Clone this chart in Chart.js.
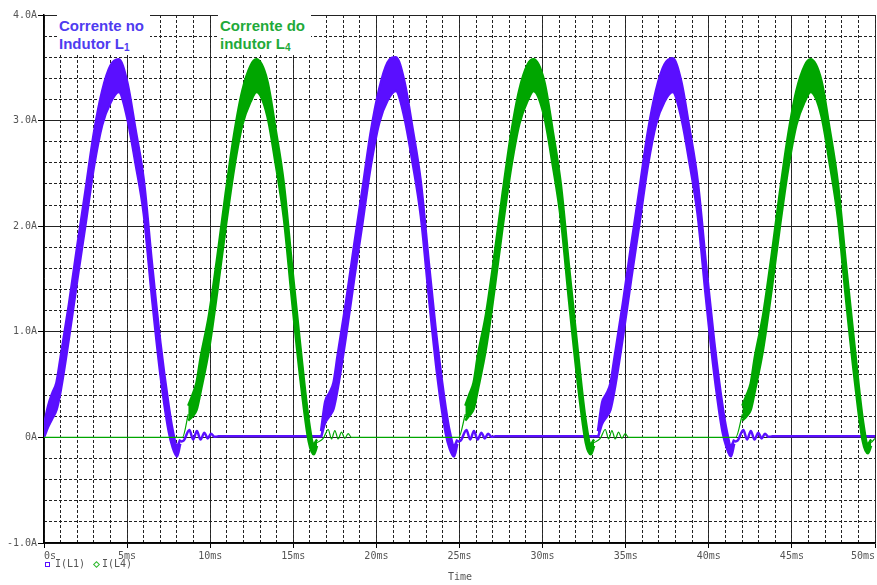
<!DOCTYPE html>
<html lang="pt">
<head>
  <meta charset="UTF-8">
  <title>Corrente nos indutores L1 e L4</title>
  <script src="https://cdn.jsdelivr.net/npm/chart.js"></script>
  <style>
    body { margin: 0; background: #fff; }
    .wrap { position: relative; width: 877px; height: 585px; }
    .note {
      position: absolute;
      top: 15px;
      background: #fff;
      font: bold 15px 'Liberation Sans', Arial, sans-serif;
      line-height: 18px;
      padding: 2px 6px 2px 2px;
      white-space: nowrap;
    }
    .note sub { font-size: 10px; vertical-align: -2px; line-height: 0; }
    .mono {
      position: absolute;
      font: 10px 'DejaVu Sans Mono', monospace;
      color: #555;
      white-space: nowrap;
    }
    .sq { position: absolute; width: 3px; height: 3px; border: 1px solid #5a0fff; }
    .dm { position: absolute; width: 3px; height: 3px; border: 1px solid #2fb82f; transform: rotate(45deg); }
  </style>
</head>
<body>
<div class="wrap">
  <canvas id="chart"></canvas>
  <div class="note" style="left:57px; color:#4f3cf0;">Corrente no<br>Indutor L<sub>1</sub></div>
  <div class="note" style="left:218px; color:#1faa3a;">Corrente do<br>indutor L<sub>4</sub></div>
  <span class="sq" style="left:45px; top:562px;"></span>
  <span class="mono" style="left:55px; top:558px;">I(L1)</span>
  <span class="dm" style="left:94px; top:562px;"></span>
  <span class="mono" style="left:102px; top:558px;">I(L4)</span>
  <span class="mono" style="left:448px; top:571px;">Time</span>
</div>

<script>
  // time in ms, current in A
  // I(L1): thick band (upper / lower edge of the ripple), null = gap between pulses
  const l1Time = [
    0, 0.25, 0.5, 0.75, 1, 1.5, 2, 2.5, 3, 3.5, 4, 4.5, 5, 5.5, 6, 6.5, 7, 7.5, 7.75, 8, 8.2,
    12,
    16.67, 16.92, 17.17, 17.42, 17.67, 18.17, 18.67, 19.17, 19.67, 20.17, 20.67, 21.17, 21.67, 22.17, 22.67, 23.17, 23.67, 24.17, 24.42, 24.67, 24.87,
    29,
    33.33, 33.58, 33.83, 34.08, 34.33, 34.83, 35.33, 35.83, 36.33, 36.83, 37.33, 37.83, 38.33, 38.83, 39.33, 39.83, 40.33, 40.83, 41.08, 41.33, 41.53
  ];
  const l1Hi = [
    0.12, 0.3, 0.42, 0.52, 0.76, 1.26, 1.81, 2.34, 2.88, 3.28, 3.52, 3.58, 3.37, 2.92, 2.44, 1.64, 0.9, 0.3, 0.06, -0.08, -0.02,
    null,
    0.06, 0.34, 0.42, 0.52, 0.78, 1.28, 1.83, 2.36, 2.9, 3.3, 3.55, 3.6, 3.38, 2.93, 2.42, 1.63, 0.88, 0.28, 0.05, -0.08, -0.02,
    null,
    0.06, 0.33, 0.41, 0.51, 0.76, 1.27, 1.82, 2.35, 2.89, 3.29, 3.53, 3.59, 3.38, 2.93, 2.43, 1.64, 0.9, 0.29, 0.06, -0.08, -0.02
  ];
  const l1Lo = [
    0.0, 0.1, 0.18, 0.26, 0.44, 0.94, 1.49, 2.02, 2.56, 2.96, 3.17, 3.27, 3.03, 2.6, 2.12, 1.32, 0.6, 0.06, -0.1, -0.18, -0.06,
    null,
    0.0, 0.14, 0.2, 0.27, 0.46, 0.96, 1.51, 2.04, 2.58, 2.98, 3.19, 3.28, 3.04, 2.61, 2.1, 1.31, 0.58, 0.04, -0.11, -0.18, -0.06,
    null,
    0.0, 0.13, 0.19, 0.26, 0.45, 0.95, 1.5, 2.03, 2.57, 2.97, 3.18, 3.27, 3.04, 2.61, 2.11, 1.32, 0.6, 0.05, -0.1, -0.18, -0.06
  ];
  // I(L1) between pulses: ringing then ~0
  const l1BaseTime = [
    8.2, 8.4, 8.75, 8.97, 9.2, 9.42, 9.65, 9.85, 10.05, 10.25, 10.5, 16.67,
    20,
    24.87, 25.07, 25.42, 25.64, 25.87, 26.09, 26.32, 26.52, 26.72, 26.92, 27.17, 33.33,
    37,
    41.53, 41.73, 42.08, 42.3, 42.53, 42.75, 42.98, 43.18, 43.38, 43.58, 43.83, 50
  ];
  const l1Base = [
    -0.04, -0.03, 0.07, -0.02, 0.06, -0.02, 0.045, -0.01, 0.035, 0.005, 0.01, 0.01,
    null,
    -0.04, -0.03, 0.07, -0.02, 0.06, -0.02, 0.045, -0.01, 0.035, 0.005, 0.01, 0.01,
    null,
    -0.04, -0.03, 0.07, -0.02, 0.06, -0.02, 0.045, -0.01, 0.035, 0.005, 0.01, 0.01
  ];

  // I(L4)
  const l4Time = [
    8.68, 8.93, 9.18, 9.43, 9.93, 10.43, 10.93, 11.43, 11.93, 12.43, 12.78, 13.43, 13.93, 14.43, 14.93, 15.43, 15.93, 16.23, 16.43,
    20,
    25.35, 25.6, 25.85, 26.1, 26.6, 27.1, 27.6, 28.1, 28.6, 29.1, 29.45, 30.1, 30.6, 31.1, 31.6, 32.1, 32.6, 32.9, 33.1,
    37,
    42.02, 42.27, 42.52, 42.77, 43.27, 43.77, 44.27, 44.77, 45.27, 45.77, 46.12, 46.77, 47.27, 47.77, 48.27, 48.77, 49.27, 49.57, 49.77
  ];
  const l4Hi = [
    0.3, 0.4, 0.52, 0.76, 1.16, 1.71, 2.31, 2.86, 3.28, 3.52, 3.58, 3.38, 2.92, 2.4, 1.61, 0.85, 0.16, -0.06, -0.02,
    null,
    0.3, 0.41, 0.52, 0.77, 1.17, 1.72, 2.32, 2.87, 3.29, 3.53, 3.58, 3.37, 2.91, 2.39, 1.6, 0.84, 0.15, -0.06, -0.02,
    null,
    0.3, 0.4, 0.51, 0.76, 1.16, 1.71, 2.31, 2.86, 3.28, 3.52, 3.58, 3.38, 2.92, 2.4, 1.61, 0.86, 0.16, -0.06, -0.02
  ];
  const l4Lo = [
    0.16, 0.2, 0.26, 0.44, 0.84, 1.39, 1.99, 2.54, 2.96, 3.18, 3.27, 3.05, 2.6, 2.08, 1.29, 0.55, -0.04, -0.16, -0.08,
    null,
    0.16, 0.21, 0.27, 0.45, 0.85, 1.4, 2.0, 2.55, 2.97, 3.19, 3.28, 3.04, 2.59, 2.07, 1.28, 0.54, -0.05, -0.16, -0.08,
    null,
    0.16, 0.2, 0.26, 0.44, 0.84, 1.39, 1.99, 2.54, 2.96, 3.18, 3.27, 3.05, 2.6, 2.08, 1.29, 0.56, -0.04, -0.15, -0.08
  ];
  const l4BaseTime = [
    0, 8.33, 8.68,
    12,
    16.43, 16.8, 17.1, 17.3, 17.5, 17.7, 17.9, 18.1, 18.3, 18.5, 18.8, 24.95, 25.35,
    29,
    33.1, 33.47, 33.77, 33.97, 34.17, 34.37, 34.57, 34.77, 34.97, 35.17, 35.47, 41.62, 42.02,
    46,
    49.77, 50
  ];
  const l4Base = [
    0, 0, 0.22,
    null,
    -0.05, -0.01, 0.075, -0.015, 0.065, -0.015, 0.05, -0.01, 0.035, 0, 0, 0, 0.22,
    null,
    -0.05, -0.01, 0.075, -0.015, 0.065, -0.015, 0.05, -0.01, 0.035, 0, 0, 0, 0.22,
    null,
    -0.05, -0.01
  ];

  const xTicksMs = [0, 5, 10, 15, 20, 25, 30, 35, 40, 45, 50];
  const yTicksA = [-1, 0, 1, 2, 3, 4];

  const BLUE = '#5a0fff';
  const GREEN = '#00a600';

  // split (time, values...) into runs without nulls
  function runs(time, ...series) {
    const out = [];
    let cur = null;
    time.forEach((t, i) => {
      if (series[0][i] === null) { cur = null; return; }
      if (!cur) { cur = series.map(() => []); out.push(cur); }
      series.forEach((s, k) => cur[k].push({ x: t, y: s[i] }));
    });
    return out;
  }

  const datasets = [];

  function addBand(time, hi, lo, color, order) {
    runs(time, hi, lo).forEach(([h, l]) => {
      datasets.push({ data: h, borderColor: color, borderWidth: 2.5, pointRadius: 0,
        cubicInterpolationMode: 'monotone', fill: false, order: order });
      datasets.push({ data: l, borderColor: color, borderWidth: 2.5, pointRadius: 0,
        cubicInterpolationMode: 'monotone', fill: '-1', backgroundColor: color, order: order });
    });
  }

  function addBase(time, vals, color, width, order) {
    runs(time, vals).forEach(([p]) => {
      datasets.push({ data: p, borderColor: color, borderWidth: width, pointRadius: 0,
        cubicInterpolationMode: 'monotone', fill: false, order: order });
    });
  }

  addBand(l1Time, l1Hi, l1Lo, BLUE, 3);
  addBase(l1BaseTime, l1Base, BLUE, 2.5, 4);
  addBand(l4Time, l4Hi, l4Lo, GREEN, 2);
  addBase(l4BaseTime, l4Base, GREEN, 1.2, 1);

  const tickFont = { family: "'DejaVu Sans Mono', monospace", size: 10 };

  new Chart(document.getElementById('chart'), {
    type: 'line',
    data: { datasets: datasets },
    options: {
      responsive: true,
      maintainAspectRatio: false,
      animation: false,
      events: [],
      layout: { padding: { top: 15, right: 1, left: 0, bottom: 0 }, autoPadding: false },
      plugins: { legend: { display: false }, tooltip: { enabled: false } },
      scales: {
        x: {
          type: 'linear', position: 'bottom', min: 0, max: 50,
          afterBuildTicks: s => { s.ticks = xTicksMs.map(v => ({ value: v })); },
          ticks: {
            autoSkip: false, maxRotation: 0, align: 'inner', padding: 2,
            color: '#555', font: tickFont,
            callback: v => v === 0 ? '0s' : v + 'ms'
          },
          grid: { color: '#333', lineWidth: 1, tickLength: 5, tickColor: '#000' },
          border: { color: '#000', width: 1.5 },
          afterFit: s => { s.height = 42; }
        },
        xMinor: {
          type: 'linear', position: 'bottom', min: 0, max: 50,
          ticks: { display: false, stepSize: 1, autoSkip: false, maxTicksLimit: 60 },
          grid: { drawTicks: false, color: '#222', lineWidth: 1, borderDash: [3, 2] },
          border: { display: false, dash: [3, 2] },
          afterFit: s => { s.height = 0; }
        },
        y: {
          position: 'left', min: -1, max: 4,
          afterBuildTicks: s => { s.ticks = yTicksA.map(v => ({ value: v })); },
          ticks: {
            autoSkip: false, padding: 1, color: '#555', font: tickFont,
            callback: v => v === 0 ? '0A' : v.toFixed(1) + 'A'
          },
          grid: { color: '#222', lineWidth: 1, tickLength: 6, tickColor: '#000' },
          border: { color: '#000', width: 1.5 },
          afterFit: s => { s.width = 44; }
        },
        yMinor: {
          position: 'left', min: -1, max: 4,
          ticks: { display: false, stepSize: 0.2, autoSkip: false, maxTicksLimit: 60 },
          grid: { drawTicks: false, color: '#222', lineWidth: 1, borderDash: [3, 2] },
          border: { display: false, dash: [3, 2] },
          afterFit: s => { s.width = 0; }
        }
      }
    }
  });
</script>
</body>
</html>
